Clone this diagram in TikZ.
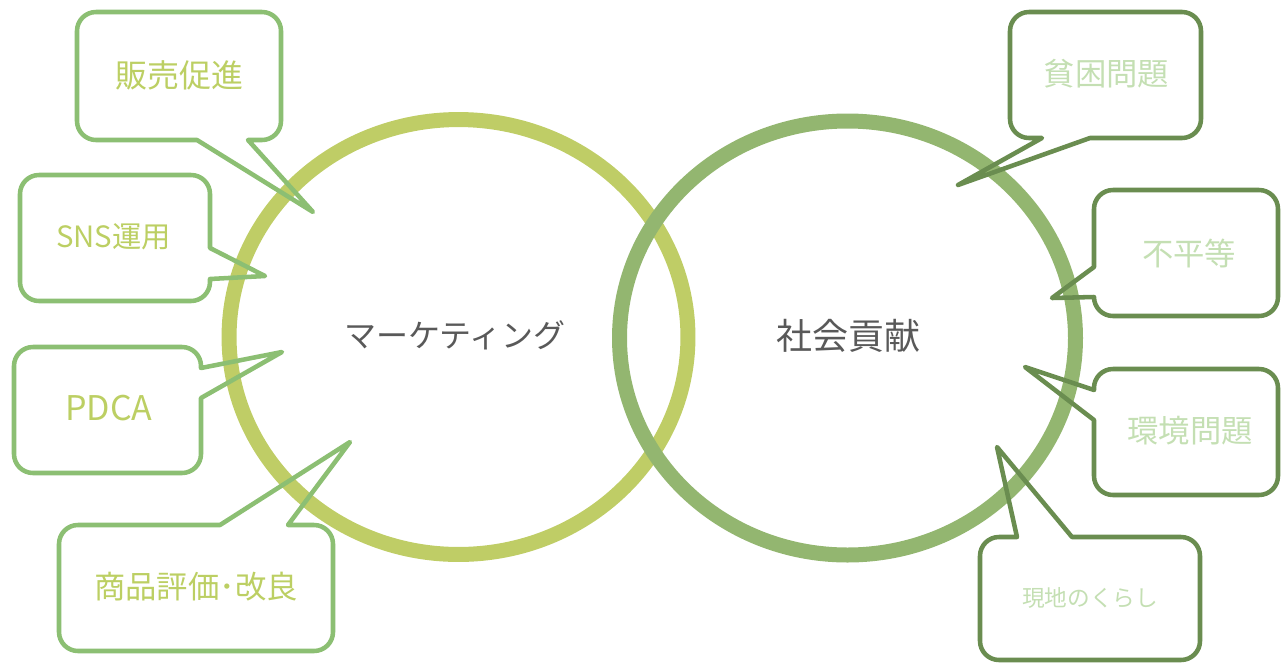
\documentclass[tikz,border=0pt]{standalone}
\usepackage{fontspec}
\setmainfont{Noto Sans CJK JP}
\definecolor{lcirc}{HTML}{BFCD66}
\definecolor{rcirc}{HTML}{93B670}
\definecolor{lline}{HTML}{8CBF73}
\definecolor{rline}{HTML}{6A8D50}
\definecolor{ltext}{HTML}{BCCF63}
\definecolor{rtext}{HTML}{C4DFB3}
\definecolor{dark}{HTML}{595959}
\begin{document}
\begin{tikzpicture}[x=0.75pt,y=-0.75pt,
  lcall/.style={draw=lline,line width=3.4pt,line join=round},
  rcall/.style={draw=rline,line width=3.4pt,line join=round},
  ltxt/.style={text=ltext,inner sep=0pt,font=\fontsize{24pt}{28pt}\selectfont},
  rtxt/.style={text=rtext,inner sep=0pt,font=\fontsize{23.5pt}{28pt}\selectfont},
  ctxt/.style={text=dark,inner sep=0pt}]
\useasboundingbox (0,0) rectangle (1282,665);
% circles
\draw[lcirc,line width=11.25pt] (458.5,337) ellipse[x radius=172.1pt,y radius=163.1pt];
\draw[rcirc,line width=11.25pt] (847.5,338) ellipse[x radius=171pt,y radius=162.75pt];
% callouts left
\draw[lcall] (96,12) -- (262,12) arc[start angle=90,end angle=0,radius=14.25pt] -- (281,121) arc[start angle=0,end angle=-90,radius=14.25pt] -- (248,140) -- (313,212) -- (197,140) -- (96,140) arc[start angle=-90,end angle=-180,radius=14.25pt] -- (77,31) arc[start angle=180,end angle=90,radius=14.25pt] -- cycle;
\draw[lcall] (39,175) -- (191,175) arc[start angle=90,end angle=0,radius=14.25pt] -- (210,248) -- (265,276) -- (210,279) -- (210,282) arc[start angle=0,end angle=-90,radius=14.25pt] -- (39,301) arc[start angle=-90,end angle=-180,radius=14.25pt] -- (20,194) arc[start angle=180,end angle=90,radius=14.25pt] -- cycle;
\draw[lcall] (33,347) -- (182,347) arc[start angle=90,end angle=0,radius=14.25pt] -- (201,368) -- (282,352) -- (201,398) -- (201,454) arc[start angle=0,end angle=-90,radius=14.25pt] -- (33,473) arc[start angle=-90,end angle=-180,radius=14.25pt] -- (14,366) arc[start angle=180,end angle=90,radius=14.25pt] -- cycle;
\draw[lcall] (78,525) -- (220,525) -- (350,442) -- (288,525) -- (314,525) arc[start angle=90,end angle=0,radius=14.25pt] -- (333,632) arc[start angle=0,end angle=-90,radius=14.25pt] -- (78,651) arc[start angle=-90,end angle=-180,radius=14.25pt] -- (59,544) arc[start angle=180,end angle=90,radius=14.25pt] -- cycle;
% callouts right
\draw[rcall] (1029,12) -- (1182,12) arc[start angle=90,end angle=0,radius=14.25pt] -- (1201,119) arc[start angle=0,end angle=-90,radius=14.25pt] -- (1090,138) -- (958,185) -- (1042,138) -- (1029,138) arc[start angle=-90,end angle=-180,radius=14.25pt] -- (1010,31) arc[start angle=180,end angle=90,radius=14.25pt] -- cycle;
\draw[rcall] (1113,190) -- (1259,190) arc[start angle=90,end angle=0,radius=14.25pt] -- (1278,297) arc[start angle=0,end angle=-90,radius=14.25pt] -- (1113,316) arc[start angle=-90,end angle=-180,radius=14.25pt] -- (1052,298) -- (1094,267) -- (1094,209) arc[start angle=180,end angle=90,radius=14.25pt] -- cycle;
\draw[rcall] (1113,369) -- (1259,369) arc[start angle=90,end angle=0,radius=14.25pt] -- (1278,476) arc[start angle=0,end angle=-90,radius=14.25pt] -- (1113,495) arc[start angle=-90,end angle=-180,radius=14.25pt] -- (1094,420) -- (1025,367) -- (1094,390) -- (1094,388) arc[start angle=180,end angle=90,radius=14.25pt] -- cycle;
\draw[rcall] (999,537) -- (1017,537) -- (997,447) -- (1072,537) -- (1181,537) arc[start angle=90,end angle=0,radius=14.25pt] -- (1200,641) arc[start angle=0,end angle=-90,radius=14.25pt] -- (999,660) arc[start angle=-90,end angle=-180,radius=14.25pt] -- (980,556) arc[start angle=180,end angle=90,radius=14.25pt] -- cycle;
% texts
\node[ctxt,font=\fontsize{24pt}{28pt}\selectfont] (mkt) at (455,335) {マーケティング};
\node[ctxt,font=\fontsize{27pt}{32pt}\selectfont] (soc) at (848,336) {社会貢献};
\node[ltxt] (t1) at (179,75) {販売促進};
\node[ltxt,font=\fontsize{22pt}{26pt}\selectfont] (t2) at (113.5,237) {SNS運用};
\node[ltxt,font=\fontsize{25.5pt}{30pt}\selectfont] (t3) at (109,408.5) {PDCA};
\node[ltxt,font=\fontsize{23.5pt}{28pt}\selectfont] (t4) at (196,587) {商品評価･改良};
\node[rtxt] (t5) at (1106.5,74) {貧困問題};
\node[rtxt] (t6) at (1189,253) {不平等};
\node[rtxt] (t7) at (1190,431) {環境問題};
\node[rtxt,font=\fontsize{17pt}{20pt}\selectfont] (t8) at (1090,598) {現地のくらし};
\end{tikzpicture}
\end{document}
